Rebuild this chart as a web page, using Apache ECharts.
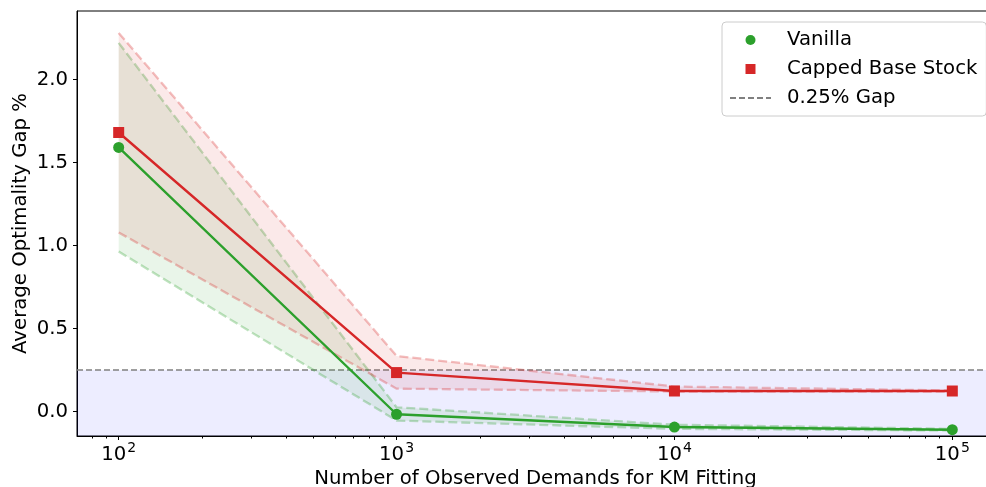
<!DOCTYPE html>
<html>
<head>
<meta charset="utf-8">
<script src="https://cdn.jsdelivr.net/npm/echarts@6/dist/echarts.min.js"></script>
<style>
  html, body { margin: 0; padding: 0; background: #fff; }
  #chart { width: 986px; height: 487px; }
</style>
</head>
<body>
<div id="chart"></div>
<script>
// Number of observed demands used for the Kaplan-Meier fit
const demands = [100, 1000, 10000, 100000];

// Average optimality gap (%) with lower / upper band per method
const vanillaGap  = [1.59, -0.017, -0.094, -0.110];
const vanillaLow  = [0.963, -0.055, -0.105, -0.115];
const vanillaHigh = [2.22, 0.025, -0.080, -0.105];

const cappedGap  = [1.68, 0.234, 0.123, 0.123];
const cappedLow  = [1.078, 0.137, 0.120, 0.120];
const cappedHigh = [2.28, 0.334, 0.150, 0.126];

// Reference gap level
const gapLevel = 0.25;

// Axis ranges and ticks
const xRange = [Math.pow(10, 1.85), Math.pow(10, 5.15)];
const yRange = [-0.148, 2.412];
const xMajorTicks = [100, 1000, 10000, 100000];
const xMinorTicks = [];
[10, 100, 1000, 10000, 100000].forEach(function (d) {
  for (let k = 2; k <= 9; k++) xMinorTicks.push(k * d);
});
const yTicks = [0.0, 0.5, 1.0, 1.5, 2.0];

const GREEN = '#2ca02c';
const RED = '#d62728';
const FONT = 'DejaVu Sans';
const FS = 19.7;

function pairs(xs, ys) { return xs.map(function (x, i) { return [x, ys[i]]; }); }

// Shaded band between a lower and an upper bound, outlined with dashed edges
function bandSeries(name, lo, hi, fill, stroke) {
  return {
    name: name, type: 'custom', z: 2, silent: true,
    data: demands.map(function (d, i) { return [d, lo[i], hi[i]]; }),
    encode: { x: 0, y: [1, 2] },
    renderItem: function (params, api) {
      if (params.dataIndex !== 0) return null;
      const lower = demands.map(function (d, i) { return api.coord([d, lo[i]]); });
      const upper = demands.map(function (d, i) { return api.coord([d, hi[i]]); });
      const poly = lower.concat(upper.slice().reverse());
      const edge = { fill: null, stroke: stroke, lineWidth: 2.3, lineDash: [9, 4] };
      return {
        type: 'group',
        children: [
          { type: 'polygon', shape: { points: poly }, style: { fill: fill, stroke: null } },
          { type: 'polyline', shape: { points: lower }, style: edge },
          { type: 'polyline', shape: { points: upper }, style: edge }
        ]
      };
    }
  };
}

const chart = echarts.init(document.getElementById('chart'), null, { renderer: 'canvas' });

chart.setOption({
  animation: false,
  textStyle: { fontFamily: FONT },
  grid: {
    left: 77, top: 11, width: 917, height: 425,
    outerBoundsMode: 'none', containLabel: false,
    show: true, borderColor: '#000', borderWidth: 1, backgroundColor: 'transparent'
  },
  legend: {
    orient: 'vertical',
    left: 722, top: 22,
    padding: [8, 9, 8, 7],
    itemWidth: 41, itemHeight: 10,
    itemGap: 9,
    backgroundColor: 'rgba(255,255,255,0.8)',
    borderColor: '#cccccc', borderWidth: 1, borderRadius: 4,
    textStyle: { fontFamily: FONT, fontSize: FS, color: '#000', lineHeight: 20, padding: [0, 0, 0, 11] },
    data: [
      { name: 'Vanilla', icon: 'circle' },
      { name: 'Capped Base Stock', icon: 'path://M0,0H10V10H0Z' },
      { name: '0.25% Gap', itemStyle: { opacity: 0 } }
    ]
  },
  xAxis: [
    {
      type: 'log', logBase: 10, min: xRange[0], max: xRange[1],
      name: 'Number of Observed Demands for KM Fitting',
      nameLocation: 'middle', nameGap: 33, nameMoveOverlap: false,
      nameTextStyle: { fontFamily: FONT, fontSize: FS, color: '#000' },
      axisLine: { show: true, onZero: false, lineStyle: { color: '#000', width: 1 } },
      axisTick: { show: true, customValues: xMajorTicks, length: 4, lineStyle: { color: '#000', width: 1 } },
      axisLabel: {
        customValues: xMajorTicks, margin: 5, color: '#000',
        formatter: function (v) {
          return '{b|10}{s|' + Math.round(Math.log10(v)) + '}';
        },
        rich: {
          b: { fontFamily: FONT, fontSize: FS, color: '#000', lineHeight: 24, verticalAlign: 'bottom' },
          s: { fontFamily: FONT, fontSize: 14, color: '#000', lineHeight: 24, verticalAlign: 'top', padding: [0, 0, 0, 1] }
        }
      },
      splitLine: { show: false },
      minorTick: { show: false }
    },
    {
      type: 'log', logBase: 10, min: xRange[0], max: xRange[1], position: 'bottom',
      axisLine: { show: false, onZero: false },
      axisTick: { show: true, customValues: xMinorTicks, length: 2.5, lineStyle: { color: '#000', width: 1 } },
      axisLabel: { show: false },
      splitLine: { show: false }
    }
  ],
  yAxis: {
    type: 'value', min: yRange[0], max: yRange[1],
    name: 'Average Optimality Gap %',
    nameLocation: 'middle', nameGap: 46, nameMoveOverlap: false,
    nameTextStyle: { fontFamily: FONT, fontSize: FS, color: '#000' },
    axisLine: { show: true, onZero: false, lineStyle: { color: '#000', width: 1 } },
    axisTick: { show: true, customValues: yTicks, length: 4, lineStyle: { color: '#000', width: 1 } },
    axisLabel: {
      customValues: yTicks, margin: 9, color: '#000',
      fontFamily: FONT, fontSize: FS,
      formatter: function (v) { return v.toFixed(1); }
    },
    splitLine: { show: false }
  },
  series: [
    // shaded region below the reference gap, with its dashed level line
    {
      name: '0.25% Gap', type: 'line', z: 1,
      data: pairs(xRange, [gapLevel, gapLevel]),
      symbol: 'none',
      lineStyle: { color: '#808080', width: 1.5, type: [6, 3] },
      itemStyle: { color: '#808080' },
      areaStyle: { origin: 'start', color: 'rgba(0,0,255,0.1)' }
    },
    bandSeries('vanilla-band', vanillaLow, vanillaHigh, 'rgba(44,160,44,0.1)', 'rgba(44,160,44,0.3)'),
    bandSeries('capped-band', cappedLow, cappedHigh, 'rgba(214,39,40,0.1)', 'rgba(214,39,40,0.3)'),
    // mean gaps
    {
      name: 'Vanilla', type: 'line', z: 4,
      data: pairs(demands, vanillaGap),
      symbol: 'circle', symbolSize: 11,
      lineStyle: { color: GREEN, width: 2.4 },
      itemStyle: { color: GREEN }
    },
    {
      name: 'Capped Base Stock', type: 'line', z: 4,
      data: pairs(demands, cappedGap),
      symbol: 'rect', symbolSize: 11,
      lineStyle: { color: RED, width: 2.4 },
      itemStyle: { color: RED }
    }
  ]
});
</script>
</body>
</html>
